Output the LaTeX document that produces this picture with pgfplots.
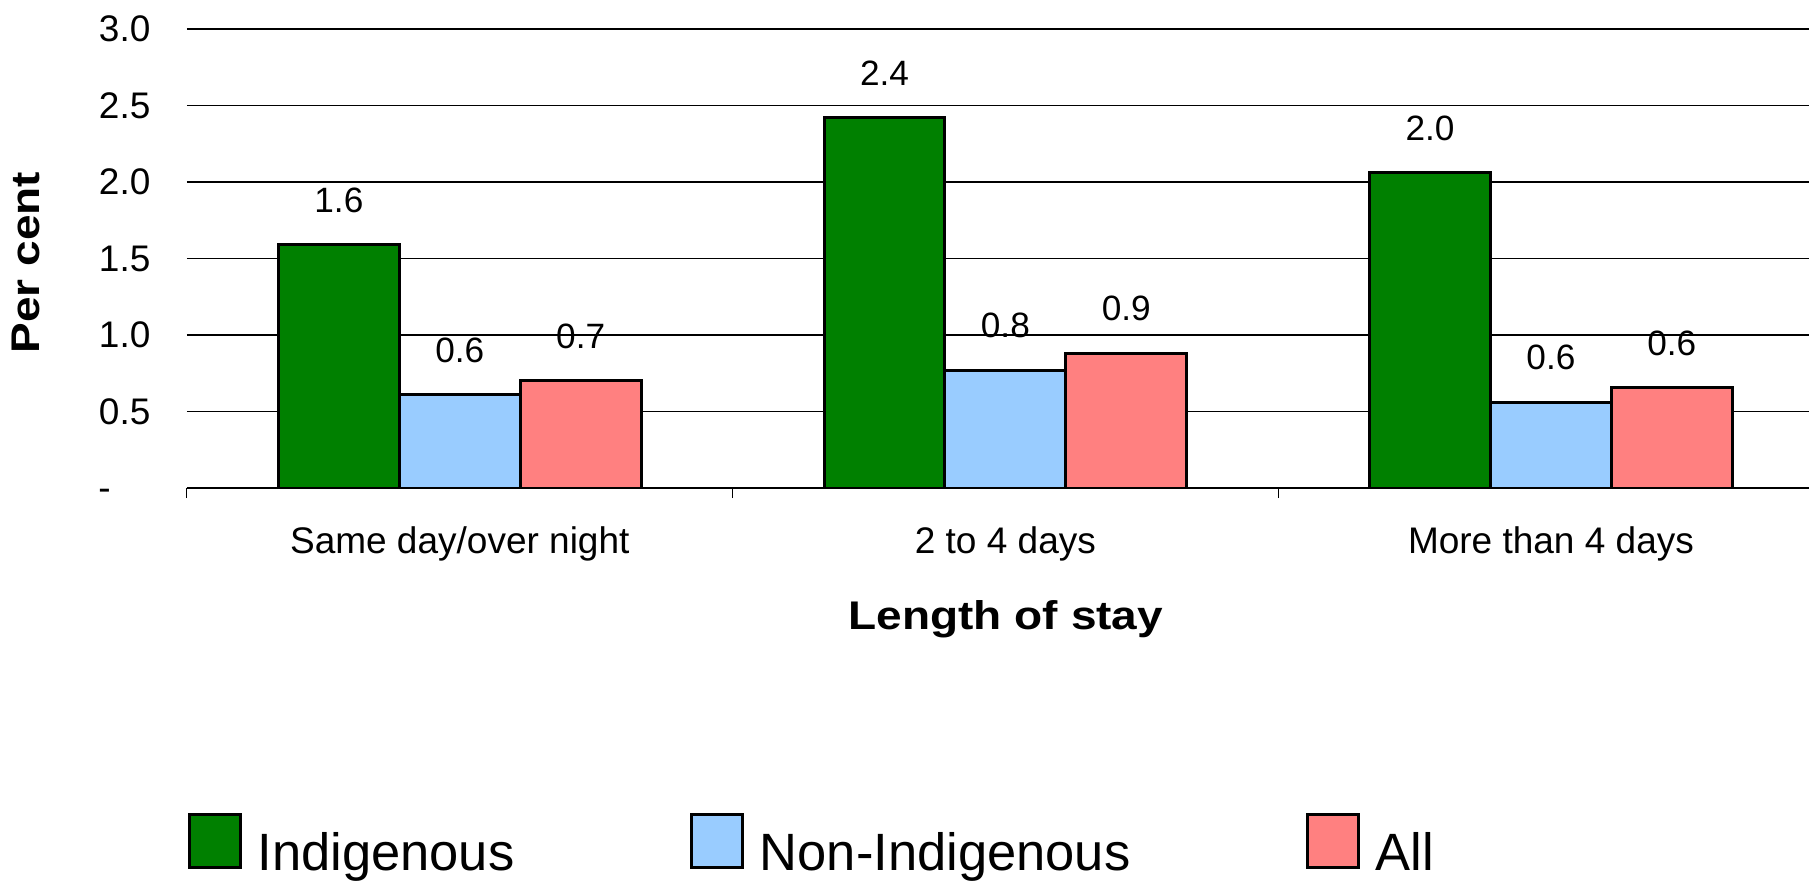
\documentclass[border=0pt]{standalone}
\usepackage{fontspec}
\setmainfont{Liberation Sans}
\newfontfamily\titlefont{Liberation Sans}[FakeStretch=1.15]
\usepackage{pgfplots}
\usepackage{pgfplotstable}
\pgfplotsset{compat=1.18}
\definecolor{igreen}{RGB}{0,128,0}
\definecolor{iblue}{RGB}{153,204,255}
\definecolor{ired}{RGB}{255,128,128}

\pgfplotstableread{
x y lab
0 1.59 1.6
1 2.42 2.4
2 2.06 2.0
}\indig
\pgfplotstableread{
x y lab
0 0.61 0.6
1 0.77 0.8
2 0.56 0.6
}\nonindig
\pgfplotstableread{
x y lab
0 0.70 0.7
1 0.88 0.9
2 0.655 0.6
}\allp

\pgfplotsset{boxlegend/.style={legend image code/.code={\draw[##1, line width=1.5pt] (0.75pt,1.25pt) rectangle (25.9pt,27.75pt);}}}

\begin{document}
\begin{tikzpicture}
\useasboundingbox (-93.5pt,-196pt) rectangle (811pt,244pt);
\begin{axis}[
  at={(0pt,0pt)}, anchor=south west,
  scale only axis, width=811pt, height=229.5pt,
  xmin=-0.5, xmax=2.473, ymin=0, ymax=3,
  axis lines*=left,
  y axis line style={draw=none},
  x axis line style={black, line width=0.8pt},
  ymajorgrids, grid style={black, line width=0.8pt},
  ytick={0,0.5,1,1.5,2,2.5,3},
  yticklabels={{\makebox[26pt][l]{-\vphantom{0}}},0.5,1.0,1.5,2.0,2.5,3.0},
  xtick={0,1,2},
  xticklabels={Same day/over night,2 to 4 days,More than 4 days},
  minor xtick={-0.5,0.5,1.5},
  major tick length=0pt, minor tick length=5pt,
  tick align=outside,
  minor tick style={black, line width=0.5pt},
  tick label style={font=\fontsize{18.5pt}{22pt}\selectfont},
  yticklabel style={anchor=east, inner sep=0pt, xshift=-18.1pt},
  xticklabel style={anchor=base, inner sep=0pt, yshift=-32.65pt},
  xlabel={Length of stay},
  ylabel={Per cent},
  xlabel style={font=\titlefont\bfseries\fontsize{20pt}{24pt}\selectfont, at={([yshift=-70.5pt]axis description cs:0.50488,0)}, anchor=base, inner sep=0pt},
  ylabel style={font=\titlefont\bfseries\fontsize{20pt}{24pt}\selectfont, at={([xshift=-73.5pt]axis description cs:0,0.4913)}, anchor=base, inner sep=0pt},
  ybar,
  bar width=0.2216,
  nodes near coords,
  point meta=explicit symbolic,
  nodes near coords style={anchor=base, inner sep=0pt, yshift=16.3pt, font=\fontsize{17.6pt}{21pt}\selectfont, text=black},
  legend columns=3,
  legend style={at={([xshift=0.65pt,yshift=-162.5pt]axis description cs:0,0)}, anchor=north west, draw=none, fill=none, inner sep=0pt, outer sep=0pt, font=\fontsize{26.25pt}{30pt}\selectfont, cells={anchor=base west, inner sep=0pt}, /tikz/every odd column/.append style={column sep=6pt}, /tikz/every even column/.append style={column sep=86pt}},
]
\addplot[fill=igreen, draw=black, line width=1.5pt, bar shift=-0.2216, boxlegend] table[x=x, y=y, meta=lab] {\indig};
\addplot[fill=iblue, draw=black, line width=1.5pt, bar shift=0, boxlegend] table[x=x, y=y, meta=lab] {\nonindig};
\addplot[fill=ired, draw=black, line width=1.5pt, bar shift=0.2216, boxlegend] table[x=x, y=y, meta=lab] {\allp};
\legend{Indigenous,Non-Indigenous,All}
\end{axis}
\end{tikzpicture}
\end{document}
